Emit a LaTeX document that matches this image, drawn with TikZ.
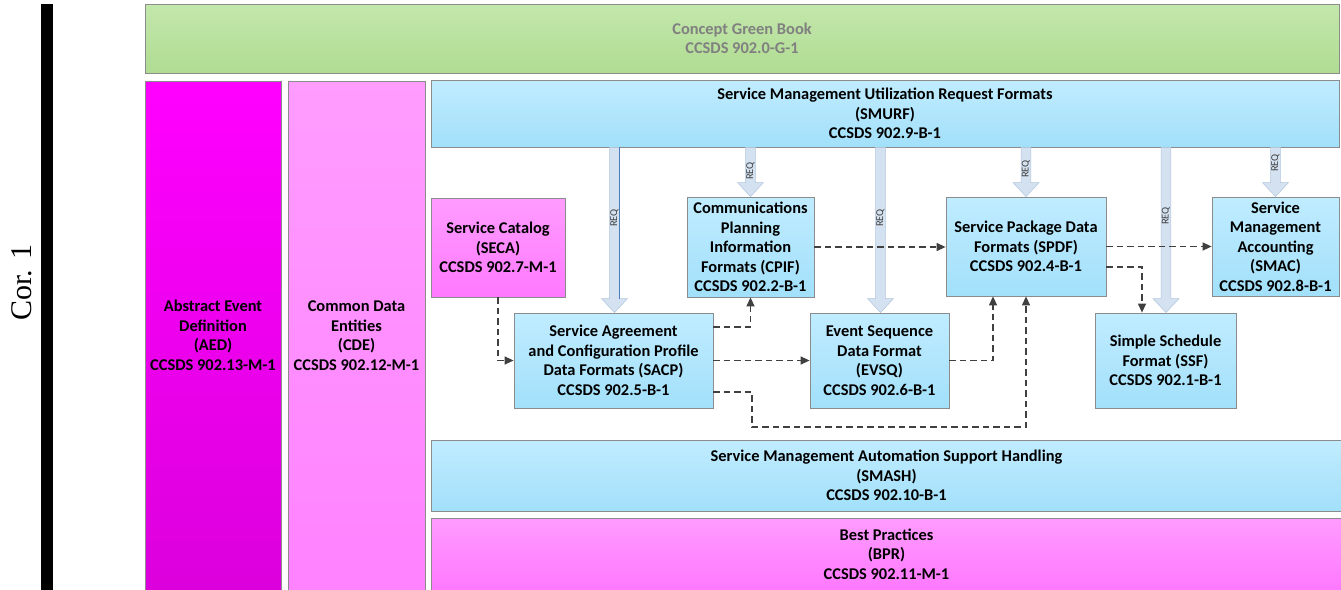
\documentclass[tikz,border=0pt]{standalone}
\usepackage{fontspec}
\setmainfont{Carlito}
\newfontfamily\corfont{Liberation Serif}
\usetikzlibrary{arrows.meta,shadows,calc}
\definecolor{boxline}{HTML}{8C8C8C}
\definecolor{greentop}{HTML}{C3E7AC}
\definecolor{greenbot}{HTML}{B0DC92}
\definecolor{greentxt}{HTML}{808080}
\definecolor{bluetop}{HTML}{C0ECFF}
\definecolor{bluebot}{HTML}{A2E0FA}
\definecolor{magtop}{HTML}{FF00FF}
\definecolor{magbot}{HTML}{DC00DC}
\definecolor{pinktop}{HTML}{FF9CFF}
\definecolor{pinkbot}{HTML}{FF78FF}
\definecolor{cdebot}{HTML}{FF82FF}
\definecolor{reqfill}{HTML}{D3E1F0}
\definecolor{reqline}{HTML}{B2C6DD}
\definecolor{reqblue}{HTML}{4A7EBB}
\definecolor{depline}{HTML}{404040}
\newcommand\boxfont{\fontsize{16.4}{19.5}\selectfont\bfseries}
\newcommand\reqarr[3]{%
  \coordinate (rtop) at (smurf.south -| #1,0);
  \coordinate (rtip) at (#2.north -| #1,0);
  \filldraw[reqbody] ([xshift=-4.8pt]rtop) -- ([xshift=-4.8pt,yshift=14pt]rtip)
    -- ([xshift=-13pt,yshift=14pt]rtip) -- (rtip)
    -- ([xshift=13pt,yshift=14pt]rtip) -- ([xshift=4.8pt,yshift=14pt]rtip)
    -- ([xshift=4.8pt]rtop) -- cycle;
  \node[reqlbl] at (#1,#3) {REQ};}
\begin{document}
\begin{tikzpicture}[x=1pt,y=-1pt,
  box/.style={draw=boxline, line width=0.8pt, inner sep=0pt, align=center,
    font=\boxfont, shading=axis, shading angle=0,
    drop shadow={shadow xshift=1.3pt, shadow yshift=-1.3pt, opacity=0.3, fill=black!60}},
  bluebox/.style={box, top color=bluetop, bottom color=bluebot},
  pinkbox/.style={box, top color=pinktop, bottom color=pinkbot},
  reqbody/.style={fill=reqfill, draw=reqline, line width=0.5pt},
  reqlbl/.style={rotate=90, inner sep=0pt, text=depline, font=\fontsize{10.5}{12}\selectfont},
  dep/.style={draw=depline, line width=1.3pt, dash pattern=on 6.5pt off 4pt,
    -{Triangle[length=9pt,width=8pt]}}]
\useasboundingbox (0,0) rectangle (1341,589);
\fill[white] (0,0) rectangle (1341,589);

% left label and bar
\node[rotate=90, inner sep=0pt, font=\corfont\fontsize{30}{36}\selectfont] (cor) at (21.5,282.5) {Cor. 1};
\node[fill=black, inner sep=0pt, minimum width=12, minimum height=600] (bar) at (47,304) {};

% top green book
\node[box, top color=greentop, bottom color=greenbot, text=greentxt,
  minimum width=1194, minimum height=69] (green) at (742,38.5)
  {Concept Green Book\\CCSDS 902.0-G-1};

% left columns
\node[box, top color=magtop, bottom color=magbot, minimum width=136, minimum height=509]
  (aed) at (213,335.5) {Abstract Event\\Definition\\(AED)\\CCSDS 902.13-M-1};
\node[box, top color=pinktop, bottom color=cdebot, minimum width=137, minimum height=509]
  (cde) at (356.5,335.5) {Common Data\\Entities\\(CDE)\\CCSDS 902.12-M-1};

% SMURF
\node[bluebox, minimum width=908, minimum height=67] (smurf) at (885,113.5)
  {Service Management Utilization Request Formats\\(SMURF)\\CCSDS 902.9-B-1};

% middle boxes
\node[pinkbox, minimum width=134, minimum height=99] (seca) at (498,247.5)
  {Service Catalog\\(SECA)\\CCSDS 902.7-M-1};
\node[bluebox, minimum width=127, minimum height=100] (cpif) at (750.5,247)
  {Communications\\Planning\\Information\\Formats (CPIF)\\CCSDS 902.2-B-1};
\node[bluebox, minimum width=160, minimum height=99] (spdf) at (1026,246.5)
  {Service Package Data\\Formats (SPDF)\\CCSDS 902.4-B-1};
\node[bluebox, minimum width=127, minimum height=99] (smac) at (1275.5,246.5)
  {Service\\Management\\Accounting\\(SMAC)\\CCSDS 902.8-B-1};
\node[bluebox, minimum width=199, minimum height=95] (sacp) at (613.5,360.5)
  {Service Agreement\\and Configuration Profile\\Data Formats (SACP)\\CCSDS 902.5-B-1};
\node[bluebox, minimum width=139, minimum height=95] (evsq) at (879.5,360.5)
  {Event Sequence\\Data Format\\(EVSQ)\\CCSDS 902.6-B-1};
\node[bluebox, minimum width=141, minimum height=95] (ssf) at (1165.5,360.5)
  {Simple Schedule\\Format (SSF)\\CCSDS 902.1-B-1};

% bottom bands
\node[bluebox, minimum width=911, minimum height=71] (smash) at (886.5,475.5)
  {Service Management Automation Support Handling\\(SMASH)\\CCSDS 902.10-B-1};
\node[pinkbox, minimum width=911, minimum height=72] (bpr) at (886.5,554)
  {Best Practices\\(BPR)\\CCSDS 902.11-M-1};

% REQ block arrows
\reqarr{614.5}{sacp}{218}
\draw[reqblue, line width=0.8pt] ([xshift=4.8pt]rtop) -- ([xshift=4.8pt,yshift=14pt]rtip);
\reqarr{750.5}{cpif}{171}
\reqarr{880.5}{evsq}{218}
\reqarr{1026}{spdf}{169}
\reqarr{1166}{ssf}{216}
\reqarr{1275.5}{smac}{163}

% dependency connectors
\draw[dep] (seca.south) |- (sacp.west);
\draw[dep] ([yshift=33.5pt]sacp.east) -| (cpif.south);
\draw[dep] (sacp.east) -- (evsq.west);
\coordinate (loop) at (752,427);
\draw[dep] ([yshift=-31.5pt]sacp.east) -| (loop) -| (spdf.south);
\draw[dep] (evsq.east) -| ([xshift=-33pt]spdf.south);
\draw[dep] (cpif.east) -- (cpif.east -| spdf.west);
\draw[dep] (spdf.east) -- (smac.west);
\draw[dep] ([yshift=-20.5pt]spdf.east) -| ([xshift=-23.5pt]ssf.north);
\end{tikzpicture}
\end{document}
